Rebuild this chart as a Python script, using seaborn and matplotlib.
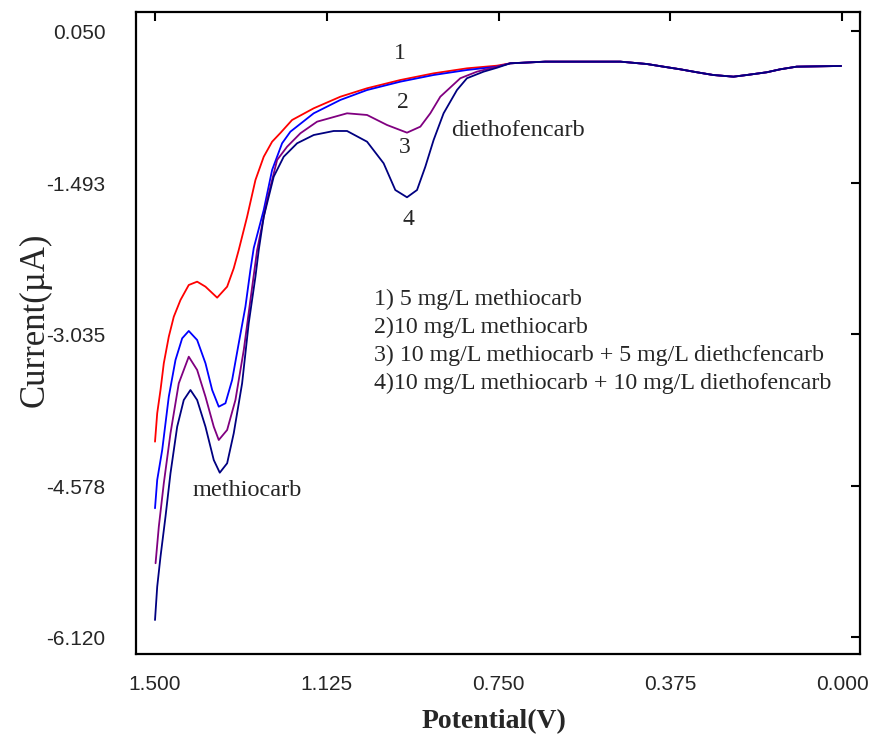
import numpy as np
import pandas as pd
import seaborn as sns
import matplotlib
matplotlib.use("Agg")
import matplotlib.pyplot as plt

# curve values (potential in V, current in uA)
tail_v = [0.7244, 0.648, 0.484, 0.426, 0.390, 0.353, 0.317, 0.281, 0.237, 0.208, 0.164, 0.135, 0.099, 0.002]
tail_i = [-0.274, -0.257, -0.257, -0.281, -0.308, -0.335, -0.365, -0.393, -0.410, -0.393, -0.365, -0.335, -0.308, -0.301]

v1 = [1.500, 1.4952, 1.488, 1.4808, 1.4699, 1.459, 1.4444, 1.4263, 1.408, 1.3898, 1.3643, 1.3425, 1.3281,
      1.3172, 1.2989, 1.2807, 1.2626, 1.2443, 1.2262, 1.2007, 1.1535, 1.0953, 1.037, 0.9644, 0.8917, 0.8189, 0.7534]
i1 = [-4.126, -3.837, -3.600, -3.328, -3.057, -2.854, -2.684, -2.531, -2.497, -2.548, -2.660, -2.548, -2.361,
      -2.175, -1.836, -1.462, -1.225, -1.072, -0.983, -0.851, -0.732, -0.614, -0.528, -0.444, -0.376, -0.325, -0.298]

v2 = [1.500, 1.4952, 1.4843, 1.4699, 1.4553, 1.4407, 1.4263, 1.408, 1.3898, 1.3752, 1.3608, 1.3462, 1.3316, 1.3172,
      1.3026, 1.2917, 1.2844, 1.2626, 1.2443, 1.2225, 1.2044, 1.1535, 1.0953, 1.037, 0.9644, 0.8917, 0.8189, 0.7534]
i2 = [-4.804, -4.516, -4.211, -3.668, -3.295, -3.074, -2.999, -3.091, -3.328, -3.600, -3.770, -3.735, -3.498, -3.125,
      -2.752, -2.378, -2.154, -1.767, -1.360, -1.088, -0.970, -0.783, -0.647, -0.546, -0.461, -0.393, -0.342, -0.308]

v3 = [1.4988, 1.4917, 1.4808, 1.4662, 1.4481, 1.4263, 1.408, 1.3898, 1.3717, 1.3608, 1.3425, 1.3244, 1.3062, 1.2917,
      1.277, 1.2552, 1.2334, 1.2116, 1.1825, 1.1461, 1.0807, 1.037, 0.9934, 0.9498, 0.9207, 0.8989, 0.8771, 0.8334,
      0.797, 0.7534]
i3 = [-5.364, -4.992, -4.550, -4.041, -3.532, -3.261, -3.396, -3.668, -3.974, -4.109, -4.007, -3.702, -3.193, -2.684,
      -2.175, -1.666, -1.258, -1.123, -0.986, -0.868, -0.783, -0.800, -0.902, -0.980, -0.919, -0.783, -0.614, -0.426,
      -0.359, -0.308]

v4 = [1.500, 1.4952, 1.488, 1.4771, 1.4662, 1.4516, 1.4372, 1.4226, 1.408, 1.3898, 1.3717, 1.3586, 1.3425, 1.3281,
      1.3098, 1.2954, 1.2807, 1.2735, 1.2626, 1.2408, 1.219, 1.1897, 1.1535, 1.1099, 1.0807, 1.037, 1.0008, 0.9753,
      0.9498, 0.9279, 0.9098, 0.8917, 0.8699, 0.8407, 0.8189, 0.7826, 0.7534]
i4 = [-5.942, -5.603, -5.297, -4.890, -4.448, -3.974, -3.702, -3.600, -3.702, -3.974, -4.313, -4.442, -4.346, -4.041,
      -3.532, -2.921, -2.446, -2.175, -1.836, -1.428, -1.225, -1.088, -1.004, -0.963, -0.963, -1.072, -1.292, -1.564,
      -1.638, -1.564, -1.327, -1.055, -0.783, -0.546, -0.426, -0.359, -0.319]

curve_names = ["1", "2", "3", "4"]
curve_colors = ["#ff0000", "#0000ff", "#800080", "#000080"]

xticks = [1.5, 1.125, 0.75, 0.375, 0.0]
xtick_labels = ["1.500", "1.125", "0.750", "0.375", "0.000"]
yticks = [0.05, -1.493, -3.035, -4.578, -6.12]
ytick_labels = ["0.050", "-1.493", "-3.035", "-4.578", "-6.120"]

legend_lines = ["1) 5 mg/L methiocarb",
                "2)10 mg/L methiocarb",
                "3) 10 mg/L methiocarb + 5 mg/L diethcfencarb",
                "4)10 mg/L methiocarb + 10 mg/L diethofencarb"]

frames = []
for name, v, i in zip(curve_names, [v1, v2, v3, v4], [i1, i2, i3, i4]):
    frames.append(pd.DataFrame({"potential": v + tail_v, "current": i + tail_i, "curve": name}))
df = pd.concat(frames, ignore_index=True)

sns.set_style("white")
plt.rcParams['font.family'] = ['Liberation Serif', 'DejaVu Serif']

fig = plt.figure(figsize=(8.74, 7.38), dpi=100)
ax = fig.add_axes([136 / 874, 1 - 654 / 738, (860 - 136) / 874, (654 - 12) / 738])

sns.lineplot(data=df, x="potential", y="current", hue="curve", palette=curve_colors,
             sort=False, estimator=None, linewidth=1.3, legend=False, ax=ax)

ax.set_xlim(1.5415, -0.0393)
ax.set_ylim(-6.288, 0.2485)
ax.set_xticks(xticks)
ax.set_xticklabels(xtick_labels, family="Liberation Sans", fontsize=15)
ax.set_yticks(yticks)
ax.set_yticklabels(ytick_labels, family="Liberation Sans", fontsize=15)
ax.tick_params(direction="in", length=6.5, width=1.5, top=True, right=True, color="black")
ax.tick_params(axis="y", pad=22)
ax.tick_params(axis="x", pad=15)
for s in ax.spines.values():
    s.set_linewidth(1.6)
    s.set_color("black")
ax.set_xlabel("")
ax.set_ylabel("")

# curve numbers and peak names
ax.text(0.9644, -0.169, "1", fontsize=17, ha="center", va="center")
ax.text(0.9578, -0.668, "2", fontsize=17, ha="center", va="center")
ax.text(0.9556, -1.136, "3", fontsize=17, ha="center", va="center")
ax.text(0.9469, -1.869, "4", fontsize=17, ha="center", va="center")
ax.text(0.8531, -0.953, "diethofencarb", fontsize=17.5, ha="left", va="center")
ax.text(1.4182, -4.628, "methiocarb", fontsize=17.5, ha="left", va="center")

for k, line in enumerate(legend_lines):
    ax.text(1.0211, -2.674 - 0.285 * k, line, fontsize=17.2, ha="left", va="center")

fig.text(35 / 874, 1 - 320 / 738, "Current(µA)", fontsize=25, rotation=90, ha="center", va="center")
fig.text(494 / 874, 1 - 722 / 738, "Potential(V)", fontsize=20, fontweight="bold", ha="center", va="center")

fig.savefig("out.png", dpi=100, facecolor="white")
